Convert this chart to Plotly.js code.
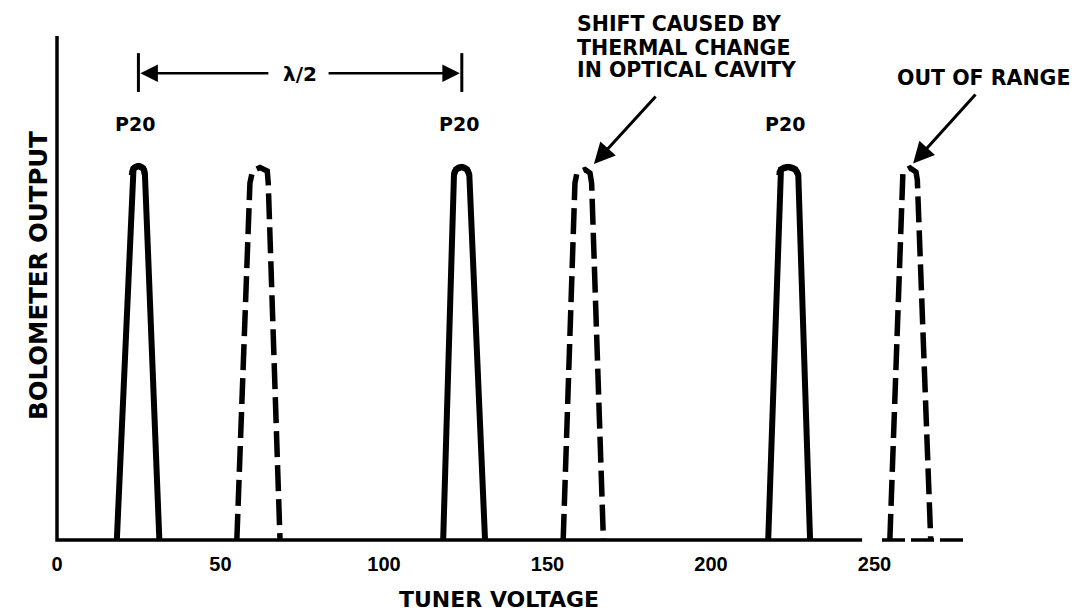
<!DOCTYPE html>
<html><head><meta charset="utf-8">
<script src="https://cdn.plot.ly/plotly-3.0.1.min.js"></script>
<style>html,body{margin:0;padding:0;background:#fff;}#chart{width:1085px;height:613px;}</style>
</head><body><div id="chart"></div>
<script>
// ---- data (x = tuner voltage, y = bolometer output, arbitrary units) ----
const tickValues = [0, 50, 100, 150, 200, 250];
const tickLabels = ['0', '50', '100', '150', '200', '250'];

// solid P20 peaks
const peak1X = [18.3, 22.9, 23.4, 24.9, 26.4, 26.9, 31.3];
const peak1Y = [0, 72.4, 73.7, 74.2, 73.7, 72.4, 0];
const peak3X = [118.1, 121.4, 122.0, 123.8, 125.4, 126.1, 130.9];
const peak3Y = [0, 72.4, 73.5, 74.0, 73.5, 72.4, 0];
const peak5X = [217.5, 220.9, 221.4, 223.6, 225.8, 226.7, 230.3];
const peak5Y = [0, 72.4, 73.5, 74.0, 73.5, 72.4, 0];

// dashed (shifted) peaks
const peak2X = [55.0, 59.0, 59.8, 62.1, 64.3, 64.6, 68.2];
const peak2Y = [0, 70.8, 73.2, 73.9, 73.2, 70.8, 0];
const peak4X = [154.8, 158.4, 159.0, 161.5, 163.0, 163.5, 167.1];
const peak4Y = [0, 70.8, 72.8, 73.5, 72.8, 70.8, 0];
const peak6X = [254.7, 258.3, 258.7, 260.9, 262.7, 263.1, 267.2];
const peak6Y = [0, 71.4, 73.0, 73.8, 73.0, 71.4, 0];

// hand-drawn axes
const axisSolidX = [0, 0, 246.2];
const axisSolidY = [100, 0, 0];
const axisDashX = [252.3, 278.6];
const axisDashY = [0, 0];

// lambda/2 marker bar heights
const barY = [96.6, 88.9];
const lambdaArrowY = 92.6;

const F = 'DejaVu Sans';
const solid = (x, y) => [
  {x, y, type:'scatter', mode:'lines', line:{color:'#000', width:6}, hoverinfo:'skip'},
  // rounded cap over the top points
  {x:x.slice(1, 6), y:y.slice(1, 6), type:'scatter', mode:'lines', line:{color:'#000', width:6, shape:'spline', smoothing:1.3}, hoverinfo:'skip'}
];
const dashed = (x, y) => ({x, y, type:'scatter', mode:'lines', line:{color:'#000', width:5.5, dash:'26px,8px'}, hoverinfo:'skip'});

const apex1 = peak1X[3], apex3 = peak3X[3], apex5 = peak5X[3];

const traces = [
  {x:axisSolidX, y:axisSolidY, type:'scatter', mode:'lines', line:{color:'#000', width:3.5}, hoverinfo:'skip'},
  {x:axisDashX, y:axisDashY, type:'scatter', mode:'lines', line:{color:'#000', width:3.5, dash:'23px,6px'}, hoverinfo:'skip'},
  ...solid(peak1X, peak1Y), ...solid(peak3X, peak3Y), ...solid(peak5X, peak5Y),
  dashed(peak2X, peak2Y), dashed(peak4X, peak4Y), dashed(peak6X, peak6Y),
  {x:[apex1, apex1, null, apex3, apex3], y:[barY[0], barY[1], null, barY[0], barY[1]], type:'scatter', mode:'lines', line:{color:'#000', width:3}, hoverinfo:'skip'}
];

const txt = (text, x, y, size, xanchor, extra) => Object.assign({
  text, x, y, xref:'x', yref:'paper', showarrow:false, xanchor:xanchor || 'center', yanchor:'middle',
  font:{family:F, size, color:'#000', weight:'bold'}
}, extra || {});

const arrow = (x, y, ax, ay, w) => ({
  text:'', x, y, ax, ay, xref:'x', yref:'y', axref:'x', ayref:'y', showarrow:true,
  arrowhead:2, arrowsize:1.4, arrowwidth:w, arrowcolor:'#000', standoff:0
});

const annotations = [
  txt('P20', apex1 - 1, 0.829, 19),
  txt('P20', apex3 - 1, 0.829, 19),
  txt('P20', apex5 - 1, 0.829, 19),
  txt('λ/2', (apex1 + apex3) / 2, 0.927, 20),
  txt('SHIFT CAUSED BY', 158.4, 1.023, 20.5, 'left'),
  txt('THERMAL CHANGE', 158.4, 0.977, 20.5, 'left'),
  txt('IN OPTICAL CAVITY', 158.4, 0.933, 20.5, 'left'),
  txt('OUT OF RANGE', 256.3, 0.918, 20.5, 'left'),
  {text:'TUNER VOLTAGE', xref:'paper', yref:'paper', x:0.4886, y:-0.097, showarrow:false, xanchor:'center', yanchor:'middle', font:{family:F, size:22, color:'#000', weight:'bold'}},
  {text:'BOLOMETER OUTPUT', xref:'paper', yref:'paper', x:-0.0125, y:0.534, showarrow:false, textangle:-90, xanchor:'center', yanchor:'middle', font:{family:F, size:24.5, color:'#000', weight:'bold'}},
  arrow(apex1 + 0.6, lambdaArrowY, 65.1, lambdaArrowY, 2.5),
  arrow(apex3 - 0.6, lambdaArrowY, 82.6, lambdaArrowY, 2.5),
  arrow(164.2, 74.6, 183.5, 88.3, 3),
  arrow(261.8, 74.7, 281.3, 88.7, 3)
];

const layout = {
  width:1085, height:613,
  margin:{l:50, r:117, t:36, b:63, pad:0},
  paper_bgcolor:'#fff', plot_bgcolor:'#fff',
  showlegend:false,
  xaxis:{range:[-2.14, 278.6], showgrid:false, zeroline:false, showline:false, ticks:'',
         tickvals:tickValues, ticktext:tickLabels,
         tickfont:{family:'Liberation Sans', size:20, color:'#000', weight:'bold'}},
  yaxis:{range:[-2, 100], showgrid:false, zeroline:false, showline:false, showticklabels:false, ticks:''},
  annotations
};

Plotly.newPlot('chart', traces, layout, {displayModeBar:false, staticPlot:true});
</script>
</body></html>
